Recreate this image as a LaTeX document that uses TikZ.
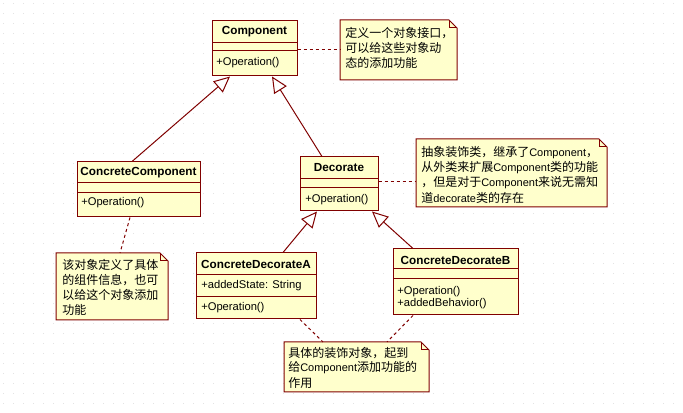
\documentclass[tikz,border=0pt]{standalone}
\usepackage{fontspec}
\setmainfont{Liberation Sans}
\newfontfamily\cjkfont{Noto Sans CJK SC}
\usetikzlibrary{arrows.meta,fit}
\definecolor{boxfill}{HTML}{FFFFCC}
\definecolor{boxline}{HTML}{800000}
\definecolor{gridc}{HTML}{E2E2E2}
\newcommand\zh[1]{{\fontsize{9}{11}\selectfont\cjkfont #1}}
\tikzset{
 cls/.style={draw=boxline, fill=boxfill, inner sep=0pt, line width=0.75pt},
 notebg/.style={inner sep=0pt, outer sep=0pt},
 notepath/.style={draw=boxline, fill=boxfill, line width=0.75pt},
 ttl/.style={font=\fontsize{8.8}{10}\selectfont\bfseries, inner sep=0pt},
 mem/.style={font=\fontsize{8.4}{10}\selectfont, inner sep=0pt, anchor=west},
 ntxt/.style={font=\fontsize{8.25}{10}\selectfont, inner sep=0pt, anchor=west},
 inh/.style={draw=boxline, line width=0.75pt, -{Triangle[open,length=12pt,width=11pt,fill=white]}},
 anchorline/.style={draw=boxline, line width=0.75pt, dash pattern=on 2.25pt off 2.25pt},
 sepline/.style={draw=boxline, line width=0.75pt},
}
\newcommand\drawnote[1]{%
 \path[notepath] (#1.north west) -- ([shift={(-8,0)}]#1.north east) -- ([shift={(0,8)}]#1.north east) -- (#1.south east) -- (#1.south west) -- cycle;
 \draw[sepline] ([shift={(-8,0)}]#1.north east) -- ([shift={(-8,8)}]#1.north east) -- ([shift={(0,8)}]#1.north east);}
\begin{document}
\begin{tikzpicture}[x=0.75pt,y=-0.75pt]
\useasboundingbox[fill=white] (0,0) rectangle (683,413);
\foreach \i in {0,...,68}{\foreach \j in {0,...,41}{\fill[gridc] (\i*10+3,\j*10+3) rectangle ++(1,1);}}

% classes
\node[cls, fit={(212,21)(297,76)}] (comp) {};
\draw[sepline] (212,43) -- (297,43) (212,51) -- (297,51);
\node[ttl] at (254.5,32) {Component};
\node[mem] at (216,63) {+Operation()};

\node[cls, fit={(77,162)(200,217)}] (cc) {};
\draw[sepline] (77,183) -- (200,183) (77,193) -- (200,193);
\node[ttl] at (138.5,173) {ConcreteComponent};
\node[mem] at (81,203) {+Operation()};

\node[cls, fit={(300,157)(378,211)}] (dec) {};
\draw[sepline] (300,179) -- (378,179) (300,188) -- (378,188);
\node[ttl] at (339,168) {Decorate};
\node[mem] at (305,200) {+Operation()};

\node[cls, fit={(196,253)(316,319)}] (cda) {};
\draw[sepline] (196,275) -- (316,275) (196,297) -- (316,297);
\node[ttl] at (256,264) {ConcreteDecorateA};
\node[mem] at (201,286) {+addedState: String};
\node[mem] at (201,308) {+Operation()};

\node[cls, fit={(393,249)(518,315)}] (cdb) {};
\draw[sepline] (393,269) -- (518,269) (393,279) -- (518,279);
\node[ttl] at (455.5,260) {ConcreteDecorateB};
\node[mem] at (397,292) {+Operation()};
\node[mem] at (397,304) {+addedBehavior()};

% notes
\node[notebg, fit={(340,20)(457,80)}] (n1) {};
\drawnote{n1}
\node[ntxt] at (345,33) {\zh{定义一个对象接口，}};
\node[ntxt] at (345,48) {\zh{可以给这些对象动}};
\node[ntxt] at (345,63) {\zh{态的添加功能}};

\node[notebg, fit={(416,139)(607,207)}] (n2) {};
\drawnote{n2}
\node[ntxt] at (421,153) {\zh{抽象装饰类，继承了}Component\zh{，}};
\node[ntxt] at (421,168) {\zh{从外类来扩展}Component\zh{类的功能}};
\node[ntxt] at (421,183) {\zh{，但是对于}Component\zh{来说无需知}};
\node[ntxt] at (421,198) {\zh{道}decorate\zh{类的存在}};

\node[notebg, fit={(56,253)(168,320)}] (n3) {};
\drawnote{n3}
\node[ntxt] at (62,265) {\zh{该对象定义了具体}};
\node[ntxt] at (62,280) {\zh{的组件信息，也可}};
\node[ntxt] at (62,295) {\zh{以给这个对象添加}};
\node[ntxt] at (62,310) {\zh{功能}};

\node[notebg, fit={(284,342)(429,392)}] (n4) {};
\drawnote{n4}
\node[ntxt] at (288,353) {\zh{具体的装饰对象，起到}};
\node[ntxt] at (288,368) {\zh{给}Component\zh{添加功能的}};
\node[ntxt] at (288,383) {\zh{作用}};

% inheritance
\draw[inh] ([shift={(-6.5,0)}]cc.north) -- ([shift={(-24.5,0)}]comp.south);
\draw[inh] ([shift={(-17,0)}]dec.north) -- ([shift={(17.5,0)}]comp.south);
\draw[inh] ([shift={(27,0)}]cda.north) -- ([shift={(-22,0)}]dec.south);
\draw[inh] ([shift={(-42.5,0)}]cdb.north) -- ([shift={(33,0)}]dec.south);

% note anchors
\draw[anchorline] ([shift={(0,1.5)}]comp.east) -- (n1.west);
\draw[anchorline] ([shift={(0,-2)}]dec.east) -- ([shift={(0,9)}]n2.west);
\draw[anchorline] ([shift={(-8.5,0)}]cc.south) -- ([shift={(8,0)}]n3.north);
\draw[anchorline] ([shift={(44,0)}]cda.south) -- ([shift={(-33.5,0)}]n4.north);
\draw[anchorline] ([shift={(-42.5,0)}]cdb.south) -- ([shift={(30.5,0)}]n4.north);
\end{tikzpicture}
\end{document}
